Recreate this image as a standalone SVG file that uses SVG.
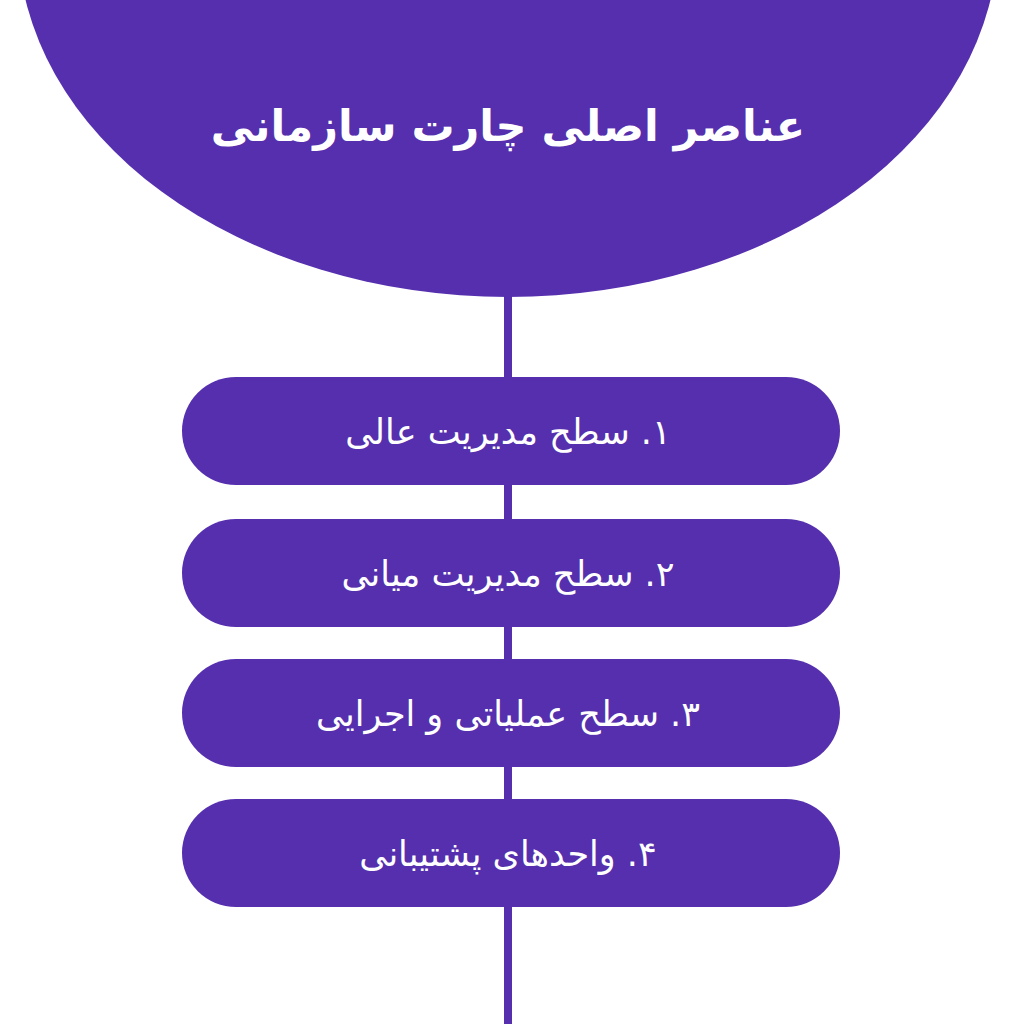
<svg xmlns="http://www.w3.org/2000/svg" width="1024" height="1024" viewBox="0 0 1024 1024">
<style>
.shape{fill:#552FAE}
.lbl{fill:#ffffff;font-family:"DejaVu Sans","Noto Sans",sans-serif;font-size:35px;text-anchor:middle;direction:rtl}
.title{fill:#ffffff;font-family:"DejaVu Sans","Noto Sans",sans-serif;font-size:43px;font-weight:bold;text-anchor:middle;direction:rtl}
</style>
<rect width="1024" height="1024" fill="#ffffff"/>
<g id="connectors">
<rect class="shape" x="504" y="280" width="8" height="744"/>
</g>
<g id="header">
<ellipse class="shape" cx="508" cy="-63" rx="490" ry="360"/>
<text class="title" x="508" y="141">عناصر  اصلی چارت سازمانی</text>
</g>
<g id="node1">
<rect class="shape" x="182" y="377" width="658" height="108" rx="54"/>
<text class="lbl" x="508" y="444">۱. سطح مدیریت عالی</text>
</g>
<g id="node2">
<rect class="shape" x="182" y="519" width="658" height="108" rx="54"/>
<text class="lbl" x="508" y="586">۲. سطح مدیریت میانی</text>
</g>
<g id="node3">
<rect class="shape" x="182" y="659" width="658" height="108" rx="54"/>
<text class="lbl" x="508" y="726">۳. سطح عملیاتی و اجرایی</text>
</g>
<g id="node4">
<rect class="shape" x="182" y="799" width="658" height="108" rx="54"/>
<text class="lbl" x="508" y="866">۴. واحدهای پشتیبانی</text>
</g>
</svg>
